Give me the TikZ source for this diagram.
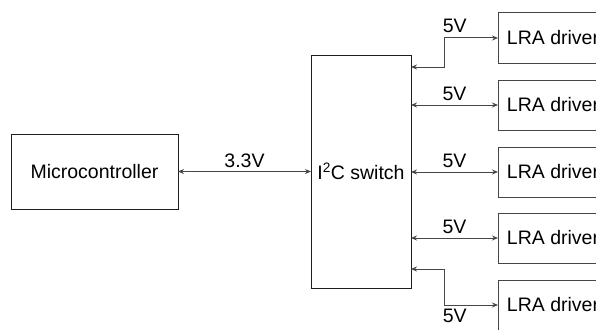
\documentclass[tikz,border=0pt]{standalone}
\usepackage{fontspec}
\setmainfont{Liberation Sans}
\usetikzlibrary{arrows.meta, positioning, calc}
\definecolor{mydark}{RGB}{30,30,30}
\definecolor{mygray}{RGB}{70,70,70}
\tikzset{
  block/.style={rectangle, draw=mydark, fill=white, align=center,
    line width=1pt, outer sep=0pt, font=\fontsize{19.5}{23}\selectfont},
  drvblock/.style={block, draw=mygray, minimum width=110pt, minimum height=50pt},
  biarrow/.style={{Stealth[length=6pt,width=5pt]}-{Stealth[length=6pt,width=5pt]},
    line width=1pt, color=mygray},
  lbl/.style={font=\fontsize{19.5}{23}\selectfont, text=black}
}

\begin{document}
\begin{tikzpicture}[x=1pt, y=-1pt]
  \useasboundingbox (0,0) rectangle (596,329);
  \node[block, minimum width=167pt, minimum height=75pt] (mc) at (94.5,171.5) {Microcontroller};
  \node[block, minimum width=100pt, minimum height=233pt, right=133pt of mc] (sw) {I\textsuperscript{2}C switch};

  \node[drvblock, anchor=west] (lra1) at (498,38) {LRA driver};
  \node[drvblock, anchor=west] (lra2) at (498,105) {LRA driver};
  \node[drvblock, anchor=west] (lra3) at (498,172) {LRA driver};
  \node[drvblock, anchor=west] (lra4) at (498,238) {LRA driver};
  \node[drvblock, anchor=west] (lra5) at (498,305) {LRA driver};

  % side taps on the switch
  \coordinate (s1) at ($(sw.north east)+(0,12)$);
  \coordinate (s5) at ($(sw.south east)+(0,-19)$);

  \draw[biarrow] (mc) -- (sw) node[midway, above, lbl] {3.3V};
  \draw[biarrow] (s1) -- ++(33,0) |- (lra1.west) node[pos=0.6, above, yshift=1pt, lbl] {5V};
  \draw[biarrow] (sw.east |- lra2) -- (lra2) node[midway, above, lbl] {5V};
  \draw[biarrow] (sw.east |- lra3) -- (lra3) node[midway, above, lbl] {5V};
  \draw[biarrow] (sw.east |- lra4) -- (lra4) node[midway, above, lbl] {5V};
  \draw[biarrow] (s5) -- ++(33,0) |- (lra5.west) node[pos=0.6, below, lbl] {5V};
\end{tikzpicture}
\end{document}
